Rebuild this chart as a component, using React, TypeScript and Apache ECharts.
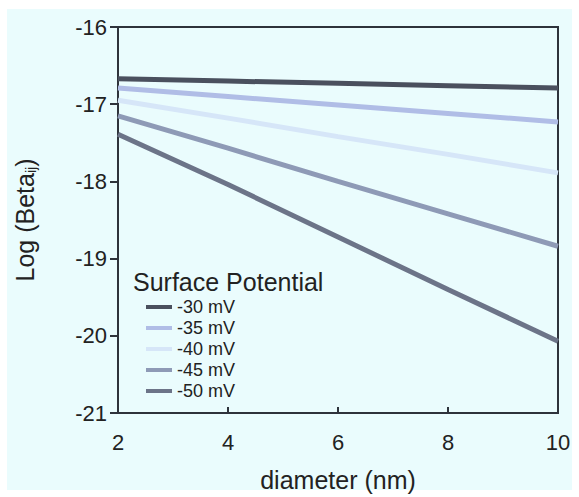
import React, { useEffect, useRef } from "react";
import * as echarts from "echarts";

const diameters = [2, 4, 6, 8, 10];
const seriesNames = ["-30 mV", "-35 mV", "-40 mV", "-45 mV", "-50 mV"];
const mv30 = [-16.67, -16.70, -16.73, -16.76, -16.79];
const mv35 = [-16.79, -16.90, -17.01, -17.12, -17.23];
const mv40 = [-16.95, -17.18, -17.42, -17.65, -17.89];
const mv45 = [-17.15, -17.57, -18.0, -18.42, -18.84];
const mv50 = [-17.39, -18.04, -18.72, -19.4, -20.07];
const allValues = [mv30, mv35, mv40, mv45, mv50];
const colors = ["#4a505e", "#b0bde6", "#d6e6f8", "#8e9ab6", "#6c7488"];

const FONT = "'Liberation Sans', Arial, sans-serif";

export default function App() {
  const ref = useRef<HTMLDivElement>(null);
  useEffect(() => {
    if (!ref.current) return;
    const chart = echarts.init(ref.current, undefined, { renderer: "svg" });
    chart.setOption({
      animation: false,
      backgroundColor: "#ffffff",
      textStyle: { fontFamily: FONT },
      graphic: [
        {
          type: "rect",
          z: -10,
          silent: true,
          shape: { x: 7, y: 9, width: 565, height: 481 },
          style: { fill: "#eafcfd" },
        },
      ],
      title: {
        text: "Surface Potential",
        left: 133,
        top: 269,
        padding: 0,
        textStyle: { fontFamily: FONT, fontSize: 25, fontWeight: "normal", color: "#222" },
      },
      legend: {
        orient: "vertical",
        left: 146,
        top: 298,
        padding: 0,
        itemWidth: 26,
        itemHeight: 4,
        itemGap: 3,
        icon: "rect",
        data: seriesNames,
        textStyle: { fontFamily: FONT, fontSize: 18, lineHeight: 18, color: "#222" },
      },
      grid: {
        left: 118,
        right: 21,
        top: 27,
        bottom: 82,
        show: true,
        borderColor: "#2e333b",
        borderWidth: 2,
        backgroundColor: "transparent",
      },
      xAxis: {
        type: "value",
        min: 2,
        max: 10,
        interval: 2,
        name: "diameter (nm)",
        nameLocation: "middle",
        nameGap: 54,
        nameTextStyle: { fontFamily: FONT, fontSize: 25, color: "#222" },
        axisLine: { lineStyle: { color: "#2e333b", width: 2 } },
        axisTick: { inside: true, length: 6, lineStyle: { color: "#2e333b", width: 2 } },
        axisLabel: { fontFamily: FONT, fontSize: 22, color: "#222", margin: 18 },
        splitLine: { show: false },
      },
      yAxis: {
        type: "value",
        min: -21,
        max: -16,
        interval: 1,
        name: "Log (Beta{sub|ij})",
        nameLocation: "middle",
        nameRotate: 90,
        nameGap: 80,
        nameTextStyle: {
          fontFamily: FONT,
          fontSize: 25,
          color: "#222",
          rich: {
            sub: { fontFamily: FONT, fontSize: 14, color: "#222", verticalAlign: "bottom", padding: [12, 0, 0, 0] },
          },
        },
        axisLine: { lineStyle: { color: "#2e333b", width: 2 } },
        axisTick: { inside: false, length: 8, lineStyle: { color: "#2e333b", width: 2 } },
        axisLabel: { fontFamily: FONT, fontSize: 22, color: "#222", margin: 11 },
        splitLine: { show: false },
      },
      series: seriesNames.map((name, i) => ({
        name,
        type: "line",
        showSymbol: false,
        symbol: "none",
        color: colors[i],
        lineStyle: { width: 5, color: colors[i] },
        data: diameters.map((d, j) => [d, allValues[i][j]]),
      })),
    });
    return () => chart.dispose();
  }, []);
  return (
    <div
      ref={ref}
      style={{ position: "fixed", left: 0, top: 0, width: 579, height: 497 }}
    />
  );
}
